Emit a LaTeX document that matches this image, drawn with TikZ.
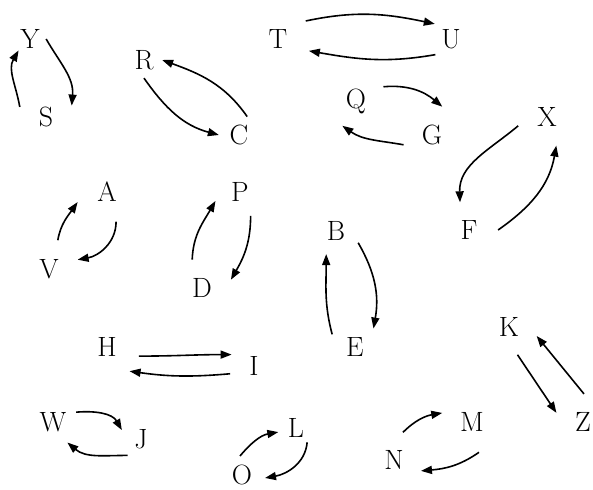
\documentclass[tikz,border=0pt]{standalone}
\usetikzlibrary{arrows.meta}
\begin{document}
\begin{tikzpicture}[x=1bp,y=1bp,
  nd/.style={circle, inner sep=0pt, minimum size=#1, text height=19bp, text depth=0pt,
    font=\fontsize{28}{30}\selectfont},
  arr/.style={line width=1.6bp, -{Triangle[length=11bp,width=8bp]}}]
\useasboundingbox (0,0) rectangle (593,490);
\node[nd=32] (Y) at (30,451) {Y};
\node[nd=56] (S) at (46,373) {S};
\node[nd=36] (R) at (144,430) {R};
\node[nd=40] (C) at (239,355) {C};
\node[nd=66] (T) at (278,451) {T};
\node[nd=44] (U) at (451,451) {U};
\node[nd=60] (Q) at (356,391) {Q};
\node[nd=60] (G) at (432,355) {G};
\node[nd=60] (X) at (547,373) {X};
\node[nd=58] (F) at (469,260) {F};
\node[nd=62] (A) at (107,298) {A};
\node[nd=60] (V) at (49,221) {V};
\node[nd=52] (P) at (240,298) {P};
\node[nd=60] (D) at (202,202) {D};
\node[nd=50] (B) at (336,259) {B};
\node[nd=52] (E) at (355,143) {E};
\node[nd=58] (K) at (509,163) {K};
\node[nd=56] (Z) at (583,68) {Z};
\node[nd=66] (H) at (107,143) {H};
\node[nd=50] (I) at (254,124) {I};
\node[nd=50] (W) at (53,68) {W};
\node[nd=42] (J) at (141,51) {J};
\node[nd=36] (L) at (296,62) {L};
\node[nd=20] (O) at (242,15) {O};
\node[nd=62] (M) at (472,68) {M};
\node[nd=58] (N) at (394,30) {N};
\draw[arr] (Y.0) to[out=-60,in=85] (S.24);
\draw[arr] (S.159) to[out=100,in=240] (Y.225);
\draw[arr] (R.-90) to[out=-55,in=165] (C.180);
\draw[arr] (C.66) to[out=125,in=-20] (R.0);
\draw[arr] (T.33) to[out=12,in=168] (U.137);
\draw[arr] (U.225) to[out=190,in=-10] (T.-21);
\draw[arr] (Q.24) to[out=5,in=140] (G.70);
\draw[arr] (G.199) to[out=170,in=-35] (Q.243);
\draw[arr] (X.197) to[out=220,in=92] (F.108);
\draw[arr] (F.0) to[out=35,in=-100] (X.-72);
\draw[arr] (V.73) to[out=80,in=235] (A.199);
\draw[arr] (A.-73) to[out=-90,in=10] (V.18);
\draw[arr] (D.109) to[out=88,in=240] (P.200);
\draw[arr] (P.-66) to[out=-90,in=60] (D.16);
\draw[arr] (B.-28) to[out=-60,in=80] (E.45);
\draw[arr] (E.151) to[out=105,in=270] (B.247);
\draw[arr] (H.-16) to[out=0,in=180] (I.153);
\draw[arr] (I.198) to[out=185,in=-8] (H.-47);
\draw[arr] (K.-73) -- (Z.161);
\draw[arr] (Z.88) -- (K.-18);
\draw[arr] (W.23) to[out=5,in=120] (J.155);
\draw[arr] (J.231) to[out=180,in=-40] (W.-55);
\draw[arr] ([shift={(-2,19)}]O.center) to[out=50,in=190] (L.193);
\draw[arr] (L.-52) to[out=-95,in=10] ([shift={(23,-3)}]O.center);
\draw[arr] (N.72) to[out=45,in=190] (M.163);
\draw[arr] (M.-77) to[out=215,in=5] (N.-22);
\end{tikzpicture}
\end{document}
